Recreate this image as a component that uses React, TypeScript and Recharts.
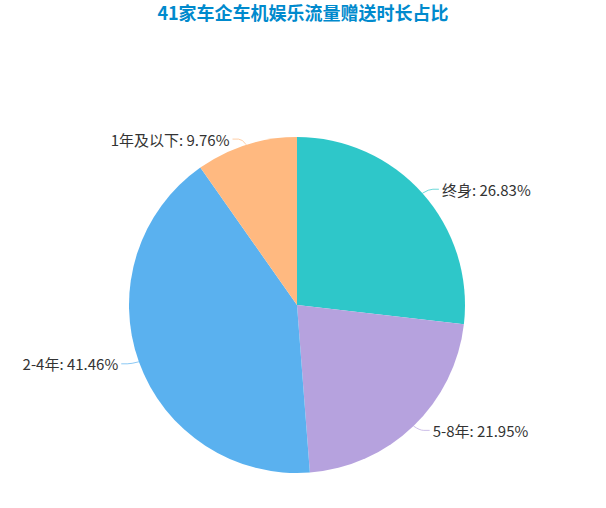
import { PieChart, Pie, Cell } from 'recharts';

// 41 automakers, grouped by length of free in-car data
const categories = ['终身', '5-8年', '2-4年', '1年及以下'];
const counts = [11, 9, 17, 4];
const colors = ['#2ec7c9', '#b6a2de', '#5ab1ef', '#ffb980'];

const total = counts.reduce((s, v) => s + v, 0);
const data = categories.map((name, i) => ({ name, value: counts[i] }));

const RADIAN = Math.PI / 180;

const renderLabel = (props: any) => {
  const { cx, cy, midAngle, outerRadius, name, value, index } = props;
  const cos = Math.cos(-midAngle * RADIAN);
  const sin = Math.sin(-midAngle * RADIAN);
  const side = cos >= 0 ? 1 : -1;
  const ex = cx + outerRadius * cos;
  const ey = cy + outerRadius * sin;
  const mx = ex + cos * 6 + side * 6;
  const my = ey + sin * 6;
  const lx = mx + side * 6;
  const pct = ((value / total) * 100).toFixed(2);
  return (
    <g>
      <path
        d={`M${ex},${ey} Q${mx - side * 4},${my} ${mx},${my} L${lx},${my}`}
        stroke={colors[index]}
        strokeOpacity={0.7}
        fill="none"
      />
      <text
        x={lx + side * 3}
        y={my}
        textAnchor={side > 0 ? 'start' : 'end'}
        dominantBaseline="central"
        fill="#333"
        fontSize={15}
      >
        {`${name}: ${pct}%`}
      </text>
    </g>
  );
};

export default function App() {
  return (
    <div
      style={{
        position: 'absolute',
        left: 0,
        top: 0,
        width: 606,
        height: 508,
        background: '#fff',
        fontFamily: '"Noto Sans CJK SC", "Noto Sans", sans-serif',
      }}
    >
      <div
        style={{
          position: 'absolute',
          top: 0,
          left: 6,
          width: 594,
          textAlign: 'center',
          fontSize: 18,
          fontWeight: 'bold',
          color: '#008acd',
          lineHeight: '24px',
        }}
      >
        41家车企车机娱乐流量赠送时长占比
      </div>
      <PieChart
        width={606}
        height={508}
        margin={{ top: 0, right: 0, bottom: 0, left: 0 }}
        style={{ position: 'absolute', left: 0, top: 0 }}
      >
        <Pie
          data={data}
          dataKey="value"
          nameKey="name"
          cx={297}
          cy={305}
          outerRadius={168}
          startAngle={90}
          endAngle={-270}
          stroke="none"
          label={renderLabel}
          labelLine={false}
          isAnimationActive={false}
        >
          {data.map((d, i) => (
            <Cell key={d.name} fill={colors[i]} />
          ))}
        </Pie>
      </PieChart>
    </div>
  );
}
